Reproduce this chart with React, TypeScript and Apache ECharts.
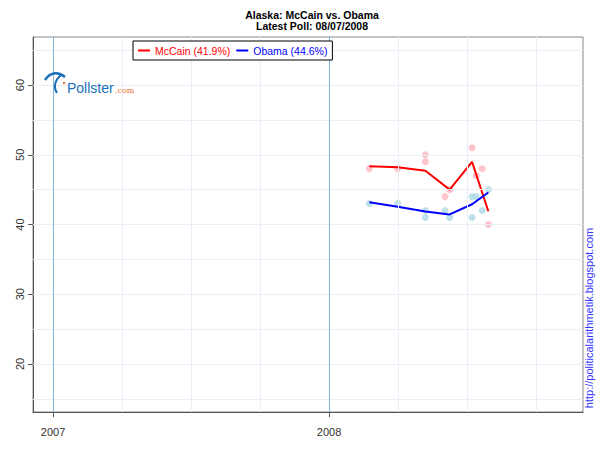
import React, { useEffect, useRef } from "react";
import * as echarts from "echarts";

// Poll dates as decimal years, values in percent
const mccainPollX = [2008.146, 2008.249, 2008.349, 2008.349, 2008.42, 2008.437, 2008.518, 2008.533, 2008.555, 2008.577];
const mccainPollY = [48, 48, 50, 49, 44, 45, 51, 47, 48, 40];
const obamaPollX = [2008.146, 2008.249, 2008.349, 2008.349, 2008.42, 2008.437, 2008.518, 2008.533, 2008.518, 2008.555, 2008.577];
const obamaPollY = [43, 43, 42, 41, 42, 41, 44, 44, 41, 42, 45];

const trendX = [2008.146, 2008.249, 2008.349, 2008.437, 2008.518, 2008.577];
const mccainTrend = [48.35, 48.2, 47.7, 45.0, 49.0, 41.9];
const obamaTrend = [43.2, 42.55, 41.85, 41.45, 42.9, 44.6];

const yearTicks = [2007, 2008];
const yearLabels = ["2007", "2008"];
const quarterLines = [2007.25, 2007.5, 2007.75, 2008.25, 2008.5, 2008.75];
const yTicks = [20, 30, 40, 50, 60];
const yGridLines = [15, 20, 25, 30, 35, 40, 45, 50, 55, 60, 65];

const mccainName = "McCain (41.9%)";
const obamaName = "Obama (44.6%)";

const FONT = "'Liberation Sans', Arial, sans-serif";

export default function App() {
  const ref = useRef<HTMLDivElement>(null);
  useEffect(() => {
    if (!ref.current) return;
    const chart = echarts.init(ref.current, null, { renderer: "svg" });
    const light = "#e8eff7";
    const option: any = {
      animation: false,
      backgroundColor: "#fff",
      textStyle: { fontFamily: FONT },
      title: {
        text: "Alaska: McCain vs. Obama\nLatest Poll: 08/07/2008",
        left: 307,
        top: 5,
        textAlign: "center",
        textStyle: { fontSize: 10.5, fontWeight: "bold", color: "#000", lineHeight: 10.5, fontFamily: FONT },
      },
      legend: {
        left: 133,
        top: 41,
        orient: "horizontal",
        data: [
          {
            name: mccainName,
            icon: "rect",
            itemStyle: { color: "#ff0000", borderWidth: 0 },
            lineStyle: { color: "#ff0000", width: 0, opacity: 0 },
            textStyle: { color: "#ff0000" },
          },
          {
            name: obamaName,
            icon: "rect",
            itemStyle: { color: "#0000ff", borderWidth: 0 },
            lineStyle: { color: "#0000ff", width: 0, opacity: 0 },
            textStyle: { color: "#0000ff" },
          },
        ],
        itemWidth: 12,
        itemHeight: 2,
        itemGap: 6,
        padding: [4, 5, 4, 5],
        backgroundColor: "#fff",
        borderColor: "#000",
        borderWidth: 1,
        borderRadius: 0,
        textStyle: { fontSize: 10.5, fontFamily: FONT },
        z: 20,
      },
      grid: {
        left: 33,
        right: 17,
        top: 37,
        bottom: 38,
        show: true,
        borderColor: "#888",
        borderWidth: 1,
        containLabel: false,
      },
      xAxis: {
        type: "value",
        min: 2006.9275,
        max: 2008.92,
        splitLine: { show: false },
        axisLine: { show: true, lineStyle: { color: "#555", width: 1 } },
        axisTick: { show: true, customValues: yearTicks, length: 5, lineStyle: { color: "#555" } },
        axisLabel: {
          show: true,
          customValues: yearTicks,
          formatter: (v: number) => yearLabels[yearTicks.indexOf(Math.round(v))] ?? "",
          fontSize: 11,
          color: "#333",
          margin: 14,
          fontFamily: FONT,
        },
      },
      yAxis: {
        type: "value",
        min: 13.1,
        max: 66.9,
        splitLine: { show: false },
        axisLine: { show: true, lineStyle: { color: "#555", width: 1 } },
        axisTick: { show: true, customValues: yTicks, length: 5, lineStyle: { color: "#555" } },
        axisLabel: {
          show: true,
          customValues: yTicks,
          rotate: 90,
          fontSize: 11,
          color: "#333",
          margin: 8,
          fontFamily: FONT,
        },
      },
      series: [
        {
          type: "scatter",
          name: "grid",
          data: [],
          silent: true,
          z: 1,
          markLine: {
            silent: true,
            symbol: "none",
            label: { show: false },
            animation: false,
            data: [
              ...yGridLines.map((v) => ({ yAxis: v, lineStyle: { color: light, width: 1, type: "solid" } })),
              ...quarterLines.map((v) => ({ xAxis: v, lineStyle: { color: light, width: 1, type: "solid" } })),
              ...yearTicks.map((v) => ({ xAxis: v, lineStyle: { color: "#86b6da", width: 1, type: "solid" } })),
            ],
          },
        },
        {
          type: "scatter",
          name: "McCain polls",
          data: mccainPollX.map((x, i) => [x, mccainPollY[i]]),
          symbolSize: 7,
          itemStyle: { color: "#ffb6c1" },
          z: 2,
        },
        {
          type: "scatter",
          name: "Obama polls",
          data: obamaPollX.map((x, i) => [x, obamaPollY[i]]),
          symbolSize: 7,
          itemStyle: { color: "#add8e6" },
          z: 2,
        },
        {
          type: "line",
          name: mccainName,
          data: trendX.map((x, i) => [x, mccainTrend[i]]),
          showSymbol: false,
          lineStyle: { color: "#ff0000", width: 2 },
          itemStyle: { color: "#ff0000" },
          z: 3,
        },
        {
          type: "line",
          name: obamaName,
          data: trendX.map((x, i) => [x, obamaTrend[i]]),
          showSymbol: false,
          lineStyle: { color: "#0000ff", width: 2 },
          itemStyle: { color: "#0000ff" },
          z: 3,
        },
      ],
      graphic: [
        {
          type: "bezierCurve",
          shape: { x1: 45, y1: 80, cpx1: 51, cpy1: 71, cpx2: 59, cpy2: 72, x2: 65, y2: 77 },
          style: { stroke: "#1a6fb8", lineWidth: 2.5, fill: null },
          z: 10,
        },
        {
          type: "bezierCurve",
          shape: { x1: 61, y1: 75, cpx1: 55, cpy1: 80, cpx2: 53, cpy2: 87, x2: 57, y2: 93 },
          style: { stroke: "#1a6fb8", lineWidth: 2, fill: null },
          z: 10,
        },
        {
          type: "circle",
          shape: { cx: 64, cy: 83, r: 1.2 },
          style: { fill: "#e8702a" },
          z: 10,
        },
        {
          type: "text",
          x: 67,
          y: 95,
          style: {
            text: "Pollster",
            fontSize: 14,
            fontFamily: FONT,
            fill: "#1a6fb8",
            textVerticalAlign: "bottom",
          },
          z: 10,
        },
        {
          type: "text",
          x: 115,
          y: 94,
          style: {
            text: ".com",
            fontSize: 8,
            fontFamily: "'DejaVu Serif', serif",
            fill: "#e8702a",
            textVerticalAlign: "bottom",
          },
          z: 10,
        },
        {
          type: "text",
          x: 589,
          y: 318,
          rotation: Math.PI / 2,
          style: {
            text: "http://politicalarithmetik.blogspot.com",
            fontSize: 11,
            fontFamily: FONT,
            fill: "#3333ff",
            textAlign: "center",
            textVerticalAlign: "middle",
          },
          z: 10,
        },
      ],
    };
    chart.setOption(option);
    return () => chart.dispose();
  }, []);
  return (
    <div
      ref={ref}
      style={{ position: "absolute", left: 0, top: 0, width: 600, height: 450 }}
    />
  );
}
